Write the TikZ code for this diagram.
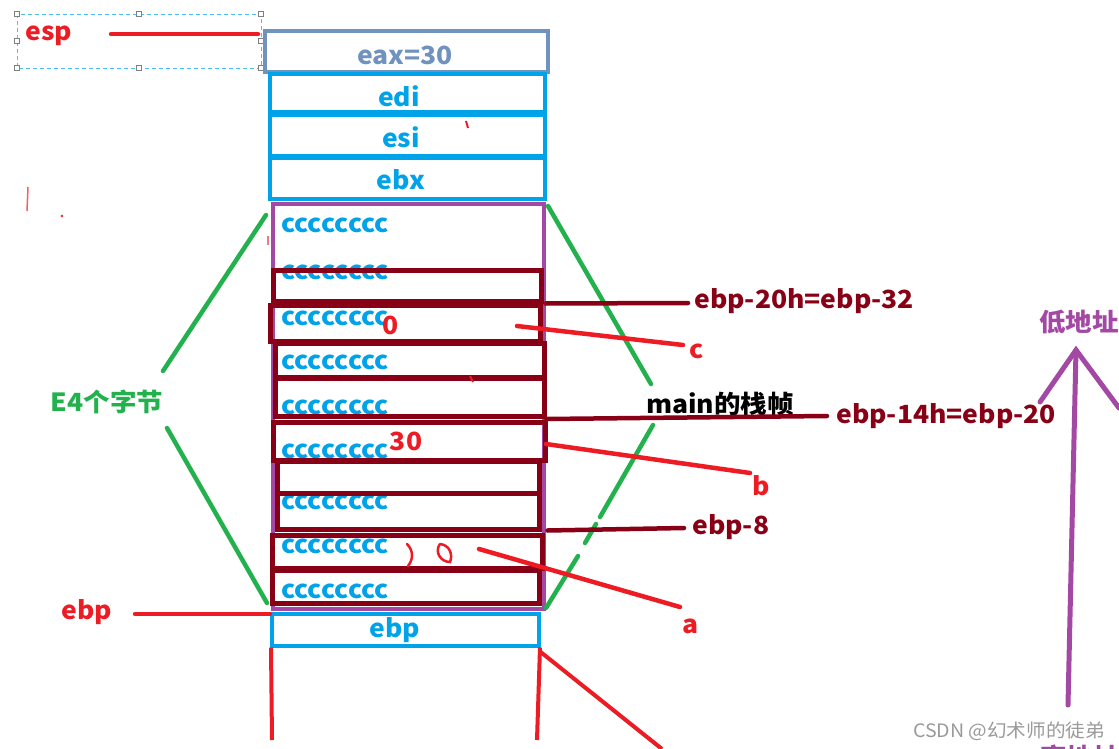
\documentclass[tikz,border=0pt]{standalone}
\usepackage{fontspec}
\setmainfont{Noto Sans CJK SC}[FakeStretch=1.06]
\definecolor{cred}{HTML}{ED1C24}
\definecolor{cblue}{HTML}{00A2E8}
\definecolor{cdark}{HTML}{880015}
\definecolor{cpurple}{HTML}{A349A4}
\definecolor{cgreen}{HTML}{22B14C}
\definecolor{cgrayblue}{HTML}{7092BE}
\definecolor{chandle}{HTML}{808080}
\definecolor{cwm}{HTML}{9A9A9A}
\tikzset{
  lbl/.style={font=\bfseries\fontsize{25}{27}\selectfont, inner sep=0pt},
  bluebox/.style={draw=cblue, line width=4pt, inner sep=0pt},
  bluetext/.style={lbl, text=cblue},
  darkbox/.style={draw=cdark, line width=5pt},
  ctext/.style={lbl, text=cblue, anchor=west},
  redline/.style={draw=cred, line width=4.5pt, line cap=round},
  darkline/.style={draw=cdark, line width=4.5pt, line cap=round},
  greenline/.style={draw=cgreen, line width=4.5pt, line cap=round},
  purpleline/.style={draw=cpurple, line width=5pt, line cap=round},
  handle/.style={draw=chandle, fill=white, line width=0.8pt, minimum size=5pt, inner sep=0pt},
}
\begin{document}
\begin{tikzpicture}[x=1pt, y=-1pt]
\fill[white] (0,0) rectangle (1119,749);
\useasboundingbox (0,0) rectangle (1119,749);

% selection frame
\draw[cblue!70, line width=0.9pt, dash pattern=on 4pt off 3pt] (17,14) rectangle (261,68);
\foreach \p/\n in {{(17,14)}/h1,{(139,14)}/h2,{(261,14)}/h3,{(17,41)}/h4,{(261,41)}/h5,{(17,68)}/h6,{(139,68)}/h7,{(261,68)}/h8}
  \node[handle] (\n) at \p {};

% top registers
\node[draw=cgrayblue, line width=4pt, minimum width=283pt, minimum height=41pt, inner sep=0pt] (eax) at (406.5,51.5) {};
\node[lbl, text=cgrayblue] (eaxt) at (405,55) {eax=30};
\node[bluebox, minimum width=275pt, minimum height=38pt] (edi) at (407.5,93) {};
\node[bluetext] (edit) at (399,96) {edi};
\node[bluebox, minimum width=275pt, minimum height=41pt] (esi) at (407.5,135.5) {};
\node[bluetext] (esit) at (401,137) {esi};
\node[bluebox, minimum width=275pt, minimum height=41pt] (ebx) at (407.5,178.5) {};
\node[bluetext] (ebxt) at (401,180) {ebx};

% esp label
\node[lbl, text=cred] (esp) at (49,36) {esp};
\coordinate (espend) at (258,34);
\draw[redline] (111,34) coordinate (espstart) -- (espend);

% frame body texts
\node[ctext] (c1) at (281,225) {cccccccc};
\node[ctext] (c2) at (281,272) {cccccccc};
\node[ctext] (c3) at (281,318) {cccccccc};
\node[ctext] (c4) at (281,362) {cccccccc};
\node[ctext] (c5) at (281,407) {cccccccc};
\node[ctext] (c6) at (281,451) {cccccccc};
\node[ctext] (c7) at (281,502) {cccccccc};
\node[ctext] (c8) at (281,546) {cccccccc};
\node[ctext] (c9) at (281,591) {cccccccc};

% purple frame
\node[draw=cpurple, line width=3.5pt, minimum width=271pt, minimum height=405pt, inner sep=0pt] (frame) at (408.5,406.5) {};

% dark red boxes
\node[darkbox, minimum width=268pt, minimum height=31pt, inner sep=0pt] (b1) at (407,285.5) {};
\node[darkbox, minimum width=270pt, minimum height=36pt, inner sep=0pt] (b2) at (405,323.5) {};
\node[darkbox, minimum width=269pt, minimum height=34pt, inner sep=0pt] (b3) at (409.5,360) {};
\node[darkbox, minimum width=269pt, minimum height=38pt, inner sep=0pt] (b4) at (409.5,397.5) {};
\node[darkbox, minimum width=272pt, minimum height=38pt, inner sep=0pt] (b5) at (409,441) {};
\node[darkbox, minimum width=262pt, minimum height=32pt, inner sep=0pt] (b6) at (408,477) {};
\node[darkbox, minimum width=262pt, minimum height=36pt, inner sep=0pt] (b7) at (408,511) {};
\node[darkbox, minimum width=270pt, minimum height=33pt, inner sep=0pt] (b8) at (407.5,551.5) {};
\node[darkbox, minimum width=267pt, minimum height=33pt, inner sep=0pt] (b9) at (405.5,586.5) {};

% ebp box
\node[bluebox, minimum width=267pt, minimum height=32pt] (ebpbox) at (405.5,629.5) {};
\node[bluetext] (ebpt) at (395,630) {ebp};

% values
\node[lbl, text=cred] (v0) at (391,325) {0};
\node[lbl, text=cred] (v30) at (406,441) {30};
\draw[cred, line width=2.5pt, line cap=round] (407,544) .. controls (414,551) and (413,560) .. (408,566);
\draw[cred, line width=2.5pt, line cap=round] (440,544) .. controls (434,552) and (441,562) .. (450,562)
   .. controls (453,555) and (450,545) .. (440,544);

% stray marks
\draw[cred, line width=2pt] (466,121) -- (468,128);
\draw[cred, line width=2pt] (470,376) -- (473,382);
\draw[cred!70, line width=1.5pt] (28,187) -- (27,211);
\fill[cred] (62,216) circle (1.4pt);
\draw[cred!60, line width=1.5pt] (268,236) -- (268,245);

% ebp pointer on the left
\node[lbl, text=cred] (ebplbl) at (87,612) {ebp};
\coordinate (ebpend) at (270,614);
\draw[redline] (135,614) -- (ebpend);

% red lines below ebp box
\coordinate (bl) at (272,740);
\coordinate (br) at (537,740);
\coordinate (bd) at (662,749);
\draw[draw=cred, line width=4pt] (ebpbox.south west) ++(1,0) -- (bl);
\draw[draw=cred, line width=4pt] (ebpbox.south east) ++(-1,0) -- (br);
\draw[draw=cred, line width=4pt] (ebpbox.south east) ++(-1,4) -- (bd);

% green braces
\node[lbl, text=cgreen] (e4) at (107,402) {E4个字节};
\coordinate (gl1) at (266,215);
\coordinate (gl2) at (267,603);
\coordinate (gr1) at (548,206);
\coordinate (gr2) at (546,608);
\draw[greenline] (163,371) -- (gl1);
\draw[greenline] (167,428) -- (gl2);
\draw[greenline] (gr1) -- (651,384);
\draw[greenline] (653,425) -- (600,517);
\draw[greenline] (596,524) -- (585,543);
\draw[greenline] (578,556) -- (gr2);

% main frame label
\node[lbl, text=black] (mainlbl) at (720,404) {main的栈帧};

% dark red offsets
\node[lbl, text=cdark, anchor=west] (o1) at (694,301) {ebp-20h=ebp-32};
\node[lbl, text=cdark, anchor=west] (o2) at (836,416) {ebp-14h=ebp-20};
\node[lbl, text=cdark, anchor=west] (o3) at (692,527) {ebp-8};
\draw[darkline] (b1.south east) ++(2,0) -- (688,303);
\draw[darkline] (b4.south east) ++(0,0) -- (827,416);
\draw[darkline] (b7.south east) ++(6,-1) -- (684,528);

% variable pointers
\node[lbl, text=cred] (vc) at (697,351) {c};
\node[lbl, text=cred] (vb) at (761,486) {b};
\node[lbl, text=cred] (va) at (691,626) {a};
\draw[redline] (517,326) -- (683,345);
\draw[redline] (546,444) -- (750,473);
\draw[redline] (479,549) -- (680,607);

% address direction
\node[lbl, text=cpurple] (low) at (1079,322) {低地址};
\coordinate (tip) at (1076,350);
\draw[purpleline] (1040,402) -- (tip) -- (1119,408);
\draw[purpleline] (tip) -- (1068,705);
\node[lbl, text=cpurple] (high) at (1080,757) {高地址};

% watermark
\node[font=\fontsize{18.5}{20}\selectfont, text=cwm, inner sep=0pt] (wm) at (1009,731) {CSDN @幻术师的徒弟};
\end{tikzpicture}
\end{document}
